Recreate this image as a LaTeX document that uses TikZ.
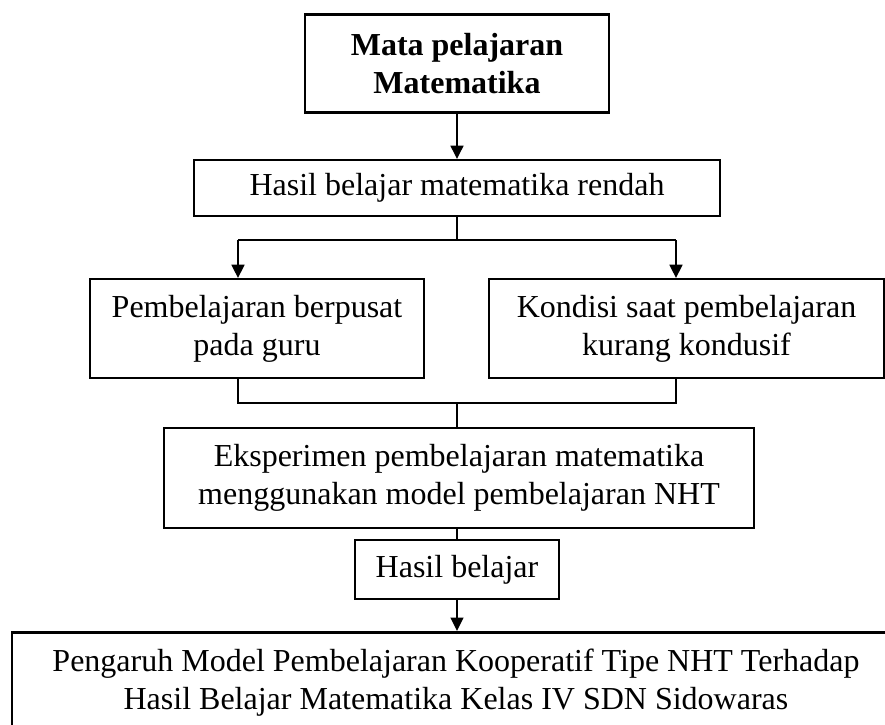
\documentclass[tikz,border=0pt]{standalone}
\usepackage{fontspec}
\setmainfont{Liberation Serif}
\usetikzlibrary{arrows.meta, positioning}

\begin{document}
\begin{tikzpicture}[->,>={Triangle[length=5pt,width=4.8pt]},x=0.375pt,y=-0.375pt,
                    line width=0.75pt]
  \tikzstyle{box}=[rectangle,draw,align=center,inner sep=0pt,font=\fontsize{12}{14.3}\selectfont]
  \useasboundingbox (0,0) rectangle (885,724);
  \node[box,line width=1.1pt,font=\fontsize{12}{14.3}\selectfont\bfseries,
        minimum width=114pt,minimum height=37pt]     (mapel) at (457,63.5)   {Mata pelajaran\\Matematika};
  \node[box,minimum width=197.6pt,minimum height=21pt] (rendah) at (457,188)  {Hasil belajar matematika rendah};
  \node[box,minimum width=125.2pt,minimum height=37.1pt] (guru) at (257,328.5) {Pembelajaran berpusat\\pada guru};
  \node[box,minimum width=148.1pt,minimum height=37.1pt] (kondisi) at (686.5,328.5) {Kondisi saat pembelajaran\\kurang kondusif};
  \node[box,minimum width=221.2pt,minimum height=37.5pt] (nht) at (459,477.5) {Eksperimen pembelajaran matematika\\menggunakan model pembelajaran NHT};
  \node[box,minimum width=76.5pt,minimum height=22pt]  (hasil) at (457,569.5) {Hasil belajar};
  \node[box,line width=1.1pt,minimum width=333pt,minimum height=38pt] (judul) at (456,683)
        {Pengaruh Model Pembelajaran Kooperatif Tipe NHT Terhadap\\Hasil Belajar Matematika Kelas IV SDN Sidowaras};
  \coordinate (bagi) at (457,240);
  \coordinate (bagiL) at (238,240);
  \coordinate (bagiR) at (676,240);
  \coordinate (gabung) at (457,403);
  \coordinate (gabungL) at (238,403);
  \coordinate (gabungR) at (676,403);
  \path (mapel) edge (rendah);
  \path (rendah) edge[-] (bagi);
  \path (bagiL) edge[-] (bagiR);
  \path (bagiL) edge (bagiL |- guru.north);
  \path (bagiR) edge (bagiR |- kondisi.north);
  \draw[-] (guru.south -| gabungL) -- (gabungL) -- (gabungR) -- (kondisi.south -| gabungR);
  \path (gabung) edge[-] (gabung |- nht.north);
  \path (nht.south -| hasil) edge[-] (hasil);
  \path (hasil) edge (hasil |- judul.north);
\end{tikzpicture}
\end{document}
